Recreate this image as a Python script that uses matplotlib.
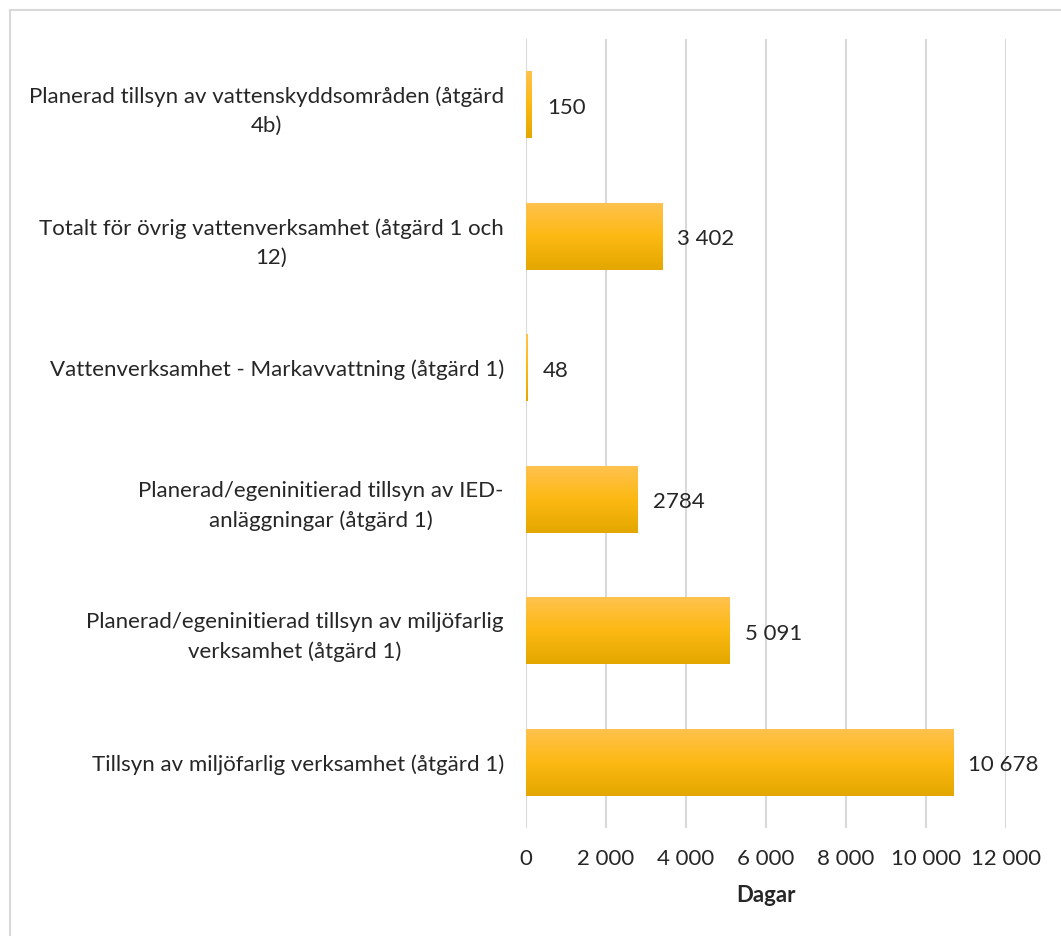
import numpy as np
import matplotlib.pyplot as plt
from matplotlib.patches import Rectangle
from matplotlib.colors import LinearSegmentedColormap

plt.rcParams['font.family'] = ['Lato', 'DejaVu Sans']

categories = ['Tillsyn av miljöfarlig verksamhet (åtgärd 1)',
              'Planerad/egeninitierad tillsyn av miljöfarlig\nverksamhet (åtgärd 1)',
              'Planerad/egeninitierad tillsyn av IED-\nanläggningar (åtgärd 1)',
              'Vattenverksamhet - Markavvattning (åtgärd 1)',
              'Totalt för övrig vattenverksamhet (åtgärd 1 och\n12)',
              'Planerad tillsyn av vattenskyddsområden (åtgärd\n4b)']
values = [10678, 5091, 2784, 48, 3402, 150]
value_labels = ['10 678', '5 091', '2784', '48', '3 402', '150']
xticks = [0, 2000, 4000, 6000, 8000, 10000, 12000]
xtick_labels = ['0', '2 000', '4 000', '6 000', '8 000', '10 000', '12 000']

fig = plt.figure(figsize=(10.61, 9.36), dpi=100)
ax = fig.add_axes([0.4958, 0.1154, 0.4524, 0.8429])

# outer chart frame (runs off the right and bottom edges)
fig.patches.append(Rectangle((10 / 1061, -0.05), 1.2, 1 - 10 / 936 + 0.05,
                             transform=fig.transFigure, fill=False,
                             edgecolor='#D9D9D9', linewidth=1.5))

grad = LinearSegmentedColormap.from_list('gold', ['#E3A700', '#FDB913', '#FFC24F'])
y = np.arange(len(values))
h = 0.51
bars = ax.barh(y, values, height=h, color='#FDB913', zorder=2)
g = np.linspace(0, 1, 100).reshape(-1, 1)
for b in bars:
    im = ax.imshow(g, cmap=grad, aspect='auto', origin='lower', zorder=3,
                   extent=(b.get_x(), b.get_x() + b.get_width(),
                           b.get_y(), b.get_y() + b.get_height()))
    im.set_clip_path(b)

for i, (v, lab) in enumerate(zip(values, value_labels)):
    ax.annotate(lab, (v, i), xytext=(11, -2), textcoords='offset points',
                va='center', ha='left', fontsize=16, color='#262626')

ax.set_xlim(0, 12000)
ax.set_ylim(-0.5, len(values) - 0.5)
ax.set_xticks(xticks)
ax.set_xticklabels(xtick_labels, fontsize=16, color='#262626')
ax.set_yticks(y)
ax.set_yticklabels(categories, fontsize=16, color='#262626',
                   multialignment='center', linespacing=1.55)
ax.tick_params(axis='both', length=0)
ax.tick_params(axis='x', pad=15)
ax.tick_params(axis='y', pad=16)
ax.grid(axis='x', color='#D9D9D9', linewidth=1.5, zorder=0)
ax.set_axisbelow(True)
for s in ax.spines.values():
    s.set_visible(False)
ax.set_xlabel('Dagar', fontsize=16, fontweight='bold', color='#262626', labelpad=12)

fig.savefig('out.png', dpi=100)
